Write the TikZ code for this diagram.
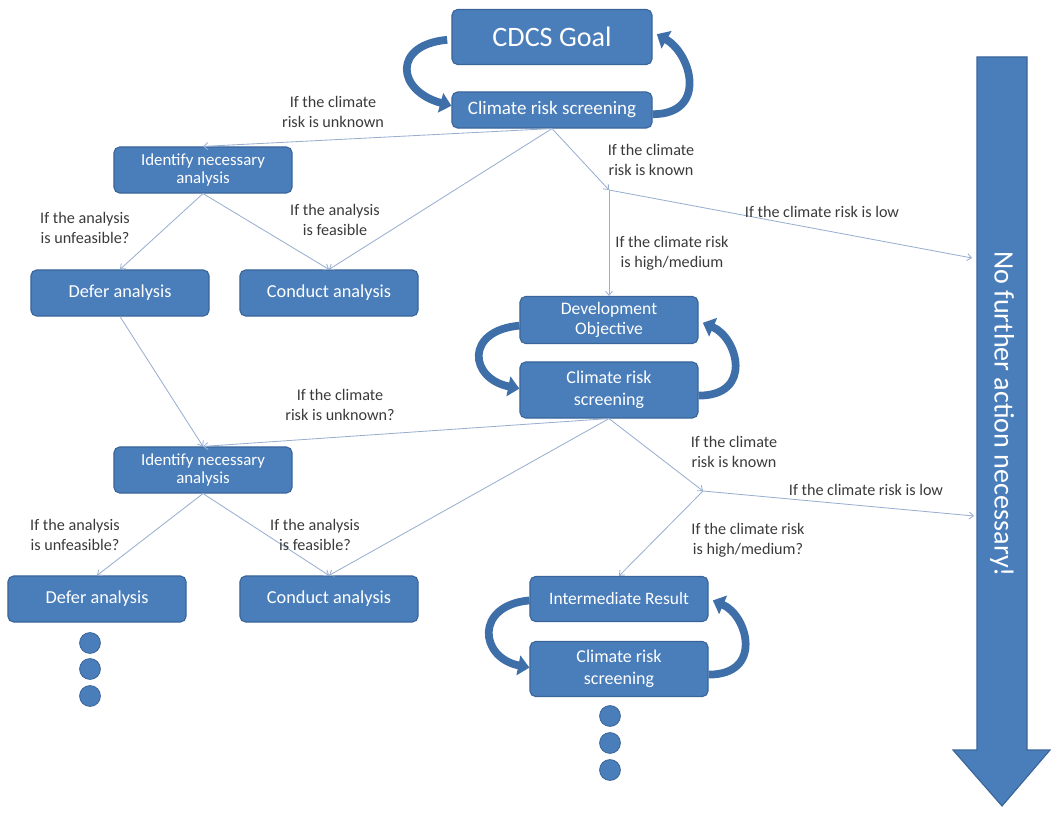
\documentclass[tikz,border=0pt]{standalone}
\usepackage{fontspec}
\setmainfont{Carlito}
\usepackage{tikz}
\usetikzlibrary{arrows.meta,positioning,calc}
\definecolor{cdBlue}{HTML}{4A7EBB}
\definecolor{cdEdge}{HTML}{3A6599}
\definecolor{cdLoop}{HTML}{3F6FA8}
\definecolor{cdWire}{HTML}{9AAFD0}
\definecolor{cdText}{HTML}{3A3A3A}

\begin{document}
\begin{tikzpicture}[x=0.025cm, y=-0.025cm, >={Straight Barb[length=3pt,width=5pt]},
    box/.style={draw=cdEdge, line width=0.8pt, fill=cdBlue, rounded corners=4pt,
      text=white, align=center, minimum width=4.45cm, minimum height=1.15cm,
      inner sep=1pt, font=\fontsize{13}{15}\selectfont},
    lbl/.style={text=cdText, align=center, font=\fontsize{11.5}{14}\selectfont, inner sep=1pt},
    wire/.style={cdWire, line width=0.6pt, ->},
    loopar/.style={cdLoop, line width=5.5pt, -{Triangle[length=8pt,width=14pt]}},
    dot/.style={circle, fill=cdBlue, draw=cdEdge, line width=0.6pt, minimum size=0.52cm, inner sep=0pt}]
  \useasboundingbox (0,0) rectangle (1053,814);

  % ── boxes ─────────────────────────────────────────────────────────────
  \node[box, minimum width=5cm, minimum height=1.375cm, font=\fontsize{20}{24}\selectfont]
    (goal) at (552,37) {CDCS Goal};
  \node[box, minimum width=5cm, minimum height=0.9cm, font=\fontsize{13.5}{16}\selectfont]
    (scr1) at (552,110) {Climate risk screening};
  \node[box, font=\fontsize{12}{13.5}\selectfont] (id1) at (203,170) {Identify necessary\\analysis};
  \node[box] (da1) at (120,293) {Defer analysis};
  \node[box] (ca1) at (329,293) {Conduct analysis};
  \node[box, minimum height=1.175cm, font=\fontsize{12.5}{14}\selectfont] (dev) at (609,320) {Development\\Objective};
  \node[box, minimum height=1.4cm, font=\fontsize{12.8}{16}\selectfont] (scr2) at (609,390) {Climate risk\\screening};
  \node[box, font=\fontsize{12}{13.5}\selectfont] (id2) at (203,470) {Identify necessary\\analysis};
  \node[box] (da2) at (97,599) {Defer analysis};
  \node[box] (ca2) at (329,599) {Conduct analysis};
  \node[box, minimum height=1.125cm, font=\fontsize{12.4}{14}\selectfont] (ir) at (619,599) {Intermediate Result};
  \node[box, minimum height=1.375cm, font=\fontsize{12.8}{16}\selectfont] (scr3) at (619,669) {Climate risk\\screening};

  % ── big arrow on the right ────────────────────────────────────────────
  \fill[cdBlue, draw=cdEdge, line width=0.8pt] (977,57) -- (1027,57) -- (1027,750) -- (1050,750)
    -- (1002,806) -- (953,750) -- (977,750) -- cycle;
  \node[rotate=-90, text=white, font=\fontsize{20}{24}\selectfont] (nofa) at (1002,414)
    {No further action necessary!};
  \coordinate (low1) at (972,258);
  \coordinate (low2) at (974,516);

  % ── loops between paired boxes ────────────────────────────────────────
  \draw[loopar] ([xshift=-3pt,yshift=-2pt]goal.west) .. controls +(-55,5) and +(-55,-15) .. ([yshift=3pt]scr1.west);
  \draw[loopar] ([yshift=-3pt]scr1.east) .. controls +(55,0) and +(35,20) .. ([xshift=3pt,yshift=2pt]goal.east);
  \draw[loopar] ([yshift=-4pt]dev.west) .. controls +(-55,5) and +(-50,-10) .. ([yshift=1pt]scr2.west);
  \draw[loopar] ([yshift=-4pt]scr2.east) .. controls +(55,0) and +(35,15) .. ([xshift=3pt,yshift=-2pt]dev.east);
  \draw[loopar] ([yshift=-1pt]ir.west) .. controls +(-55,5) and +(-50,-10) .. ([yshift=1pt]scr3.west);
  \draw[loopar] ([yshift=-4pt]scr3.east) .. controls +(55,0) and +(35,15) .. ([xshift=3pt,yshift=-1pt]ir.east);

  % ── junctions ─────────────────────────────────────────────────────────
  \coordinate (known1) at (609,190);
  \coordinate (known2) at (703,491);

  % ── first level connectors ────────────────────────────────────────────
  \draw[wire] (scr1.south) -- (id1.north);
  \draw[wire] (scr1.south) -- (ca1.north);
  \draw[wire] (scr1.south) -- (known1);
  \draw[wire] (known1) -- (low1);
  \draw[wire] (known1) -- (dev.north);
  \draw[wire] (id1.south) -- (da1.north);
  \draw[wire] (id1.south) -- (ca1.north);
  \draw[wire] (da1.south) -- (id2.north);

  % ── second level connectors ───────────────────────────────────────────
  \draw[wire] (scr2.south) -- (id2.north);
  \draw[wire] (scr2.south) -- (ca2.north);
  \draw[wire] (scr2.south) -- (known2);
  \draw[wire] (known2) -- (low2);
  \draw[wire] (known2) -- (ir.north);
  \draw[wire] (id2.south) -- (da2.north);
  \draw[wire] (id2.south) -- (ca2.north);

  % ── labels ────────────────────────────────────────────────────────────
  \node[lbl] (unk1) at (333,112) {If the climate\\risk is unknown};
  \node[lbl] (kno1) at (651,160) {If the climate\\risk is known};
  \node[lbl] (lowl1) at (822,212) {If the climate risk is low};
  \node[lbl] (hig1) at (672,253) {If the climate risk\\is high/medium};
  \node[lbl] (unf1) at (85,228) {If the analysis\\is unfeasible?};
  \node[lbl] (fea1) at (335,220) {If the analysis\\is feasible};
  \node[lbl] (unk2) at (340,405) {If the climate\\risk is unknown?};
  \node[lbl] (kno2) at (734,452) {If the climate\\risk is known};
  \node[lbl] (lowl2) at (866,490) {If the climate risk is low};
  \node[lbl] (hig2) at (748,540) {If the climate risk\\is high/medium?};
  \node[lbl] (unf2) at (75,535) {If the analysis\\is unfeasible?};
  \node[lbl] (fea2) at (315,535) {If the analysis\\is feasible?};

  % ── continuation dots ─────────────────────────────────────────────────
  \foreach \i/\yy in {1/643,2/669,3/696}
    \node[dot] (dl\i) at (90,\yy) {};
  \foreach \i/\yy in {1/716,2/743,3/770}
    \node[dot] (dr\i) at (610,\yy) {};
\end{tikzpicture}
\end{document}
